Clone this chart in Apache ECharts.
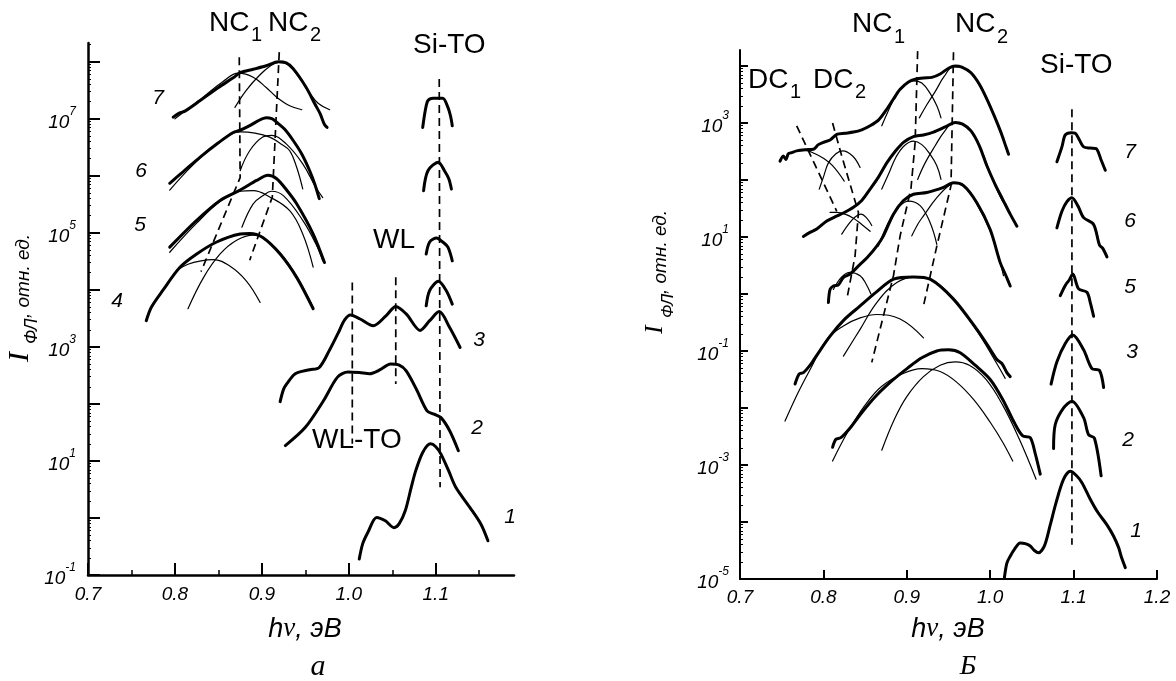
<!DOCTYPE html>
<html><head><meta charset="utf-8">
<script src="https://cdn.jsdelivr.net/npm/echarts@6/dist/echarts.min.js"></script>
<style>html,body{margin:0;padding:0;background:#fff}#c{width:1176px;height:681px}</style>
</head><body><div id="c"></div>
<script>
// ---------- axis tick values (y values are log10 of intensity) ----------
const xTicksA = [0.7, 0.8, 0.9, 1.0, 1.1];
const xMinorA = [0.75, 0.85, 0.95, 1.05, 1.15];
const yTicksA = [-1, 0, 1, 2, 3, 4, 5, 6, 7, 8];
const yLabelsA = [-1, 1, 3, 5, 7];
const xTicksB = [0.7, 0.8, 0.9, 1.0, 1.1, 1.2];
const yTicksB = [-5, -4, -3, -2, -1, 0, 1, 2, 3, 4];
const yLabelsB = [-5, -3, -1, 1, 3];

// ---------- panel a : [hv (eV), log10 I] ----------
const L7 = [[0.798,7.03],[0.805,7.10],[0.812,7.14],[0.829,7.32],[0.85,7.55],[0.867,7.72],[0.875,7.81],[0.89,7.87],[0.905,7.93],[0.919,8.0],[0.928,7.98],[0.936,7.88],[0.951,7.55],[0.961,7.26],[0.967,7.09],[0.972,6.90],[0.975,6.85]];
const L7a = [[0.80,7.0],[0.83,7.35],[0.855,7.65],[0.873,7.80],[0.89,7.73],[0.905,7.55],[0.917,7.38],[0.932,7.23],[0.946,7.16]];
const L7b = [[0.869,7.2],[0.882,7.5],[0.897,7.76],[0.91,7.93],[0.919,7.99],[0.93,7.95],[0.945,7.68],[0.955,7.45],[0.965,7.27],[0.978,7.16]];
const L6 = [[0.794,5.87],[0.81,6.08],[0.829,6.33],[0.85,6.58],[0.867,6.76],[0.875,6.80],[0.886,6.88],[0.895,6.96],[0.905,7.02],[0.912,7.0],[0.917,6.94],[0.926,6.82],[0.936,6.62],[0.946,6.38],[0.955,6.09],[0.961,5.85],[0.966,5.60]];
const L6a = [[0.794,5.75],[0.82,6.18],[0.85,6.58],[0.875,6.77],[0.892,6.75],[0.909,6.68],[0.922,6.56],[0.932,6.44],[0.94,6.15],[0.947,5.77]];
const L6b = [[0.875,6.09],[0.886,6.44],[0.901,6.68],[0.911,6.71],[0.928,6.56],[0.947,6.21],[0.962,5.80],[0.970,5.62]];
const L5 = [[0.794,4.75],[0.825,5.22],[0.852,5.57],[0.875,5.75],[0.894,5.92],[0.907,6.01],[0.917,5.95],[0.928,5.76],[0.94,5.51],[0.959,4.98],[0.972,4.48]];
const L5a = [[0.794,4.66],[0.825,5.17],[0.852,5.55],[0.875,5.73],[0.89,5.74],[0.909,5.63],[0.932,5.39],[0.947,4.98],[0.959,4.40]];
const L5b = [[0.877,5.10],[0.890,5.51],[0.901,5.65],[0.911,5.73],[0.925,5.65],[0.947,5.22],[0.962,4.81],[0.970,4.51]];
const L4 = [[0.767,3.46],[0.773,3.70],[0.786,3.99],[0.806,4.40],[0.825,4.63],[0.848,4.84],[0.875,4.98],[0.886,4.99],[0.901,4.92],[0.921,4.63],[0.94,4.22],[0.959,3.67]];
const L4a = [[0.803,4.35],[0.815,4.45],[0.83,4.51],[0.844,4.53],[0.863,4.42],[0.882,4.16],[0.898,3.78]];
const L4b = [[0.815,3.67],[0.833,4.22],[0.852,4.63],[0.871,4.87],[0.89,4.96],[0.901,4.92],[0.921,4.65],[0.94,4.24],[0.959,3.69]];
const L3 = [[0.921,2.04],[0.925,2.26],[0.929,2.36],[0.936,2.50],[0.941,2.55],[0.955,2.60],[0.966,2.64],[0.978,2.95],[0.988,3.25],[0.995,3.47],[1.002,3.56],[1.013,3.49],[1.028,3.37],[1.043,3.55],[1.054,3.71],[1.066,3.58],[1.082,3.29],[1.093,3.46],[1.104,3.62],[1.116,3.34],[1.128,2.99]];
const L2 = [[0.927,1.27],[0.95,1.59],[0.971,2.06],[0.987,2.47],[0.999,2.56],[1.012,2.55],[1.024,2.53],[1.036,2.60],[1.048,2.70],[1.058,2.68],[1.066,2.58],[1.078,2.25],[1.090,1.88],[1.098,1.82],[1.106,1.76],[1.116,1.53],[1.126,1.18]];
const L1 = [[1.012,-0.72],[1.016,-0.45],[1.022,-0.25],[1.032,0.01],[1.042,-0.05],[1.052,-0.17],[1.058,-0.10],[1.065,0.13],[1.072,0.55],[1.077,0.83],[1.085,1.15],[1.094,1.30],[1.100,1.25],[1.106,1.12],[1.115,0.82],[1.123,0.54],[1.139,0.19],[1.152,-0.11],[1.160,-0.40]];
const LSi7 = [[1.085,6.85],[1.088,7.15],[1.091,7.32],[1.097,7.36],[1.108,7.36],[1.114,7.20],[1.117,7.05],[1.119,6.88]];
const LSi6 = [[1.086,5.74],[1.091,6.09],[1.103,6.24],[1.110,6.09],[1.115,5.95],[1.118,5.77]];
const LSi5 = [[1.089,4.63],[1.093,4.84],[1.101,4.91],[1.108,4.84],[1.114,4.75],[1.119,4.51]];
const LSi4 = [[1.089,3.72],[1.093,3.99],[1.103,4.15],[1.112,3.99],[1.119,3.75]];
const LdNC1 = [[0.874,8.08],[0.875,5.97],[0.830,4.32]];
const LdNC2 = [[0.920,8.17],[0.912,5.63],[0.886,4.52]];
const LdSi = [[1.104,7.70],[1.105,0.54]];
const LdWL1 = [[1.004,4.13],[1.004,1.30]];
const LdWL2 = [[1.054,4.22],[1.054,2.35]];

// ---------- panel Б ----------
const R7 = [[0.748,2.33],[0.752,2.42],[0.755,2.36],[0.758,2.46],[0.762,2.48],[0.768,2.51],[0.778,2.53],[0.788,2.54],[0.794,2.62],[0.800,2.66],[0.808,2.70],[0.816,2.80],[0.826,2.82],[0.836,2.84],[0.846,2.88],[0.856,2.95],[0.866,3.05],[0.875,3.22],[0.884,3.42],[0.892,3.59],[0.902,3.72],[0.911,3.77],[0.920,3.79],[0.930,3.80],[0.940,3.86],[0.950,3.96],[0.958,4.00],[0.966,3.98],[0.977,3.88],[0.987,3.68],[0.996,3.42],[1.005,3.12],[1.013,2.83],[1.018,2.62],[1.022,2.45]];
const R7dc1 = [[0.765,2.50],[0.778,2.52],[0.790,2.46],[0.800,2.38],[0.811,2.25],[0.825,1.98]];
const R7dc2 = [[0.795,1.84],[0.800,2.05],[0.806,2.30],[0.815,2.46],[0.823,2.51],[0.835,2.42],[0.844,2.22]];
const R7a = [[0.870,2.95],[0.878,3.22],[0.887,3.48],[0.897,3.66],[0.908,3.74],[0.918,3.70],[0.928,3.52],[0.936,3.30],[0.941,3.09]];
const R7b = [[0.915,3.09],[0.924,3.32],[0.934,3.55],[0.945,3.82],[0.956,3.99],[0.967,3.97],[0.978,3.85],[0.990,3.60],[1.003,3.20],[1.013,2.83]];
const R6 = [[0.776,1.01],[0.784,1.08],[0.792,1.14],[0.804,1.28],[0.815,1.36],[0.824,1.42],[0.836,1.52],[0.846,1.64],[0.856,1.84],[0.866,2.05],[0.876,2.30],[0.886,2.50],[0.896,2.66],[0.908,2.76],[0.920,2.79],[0.932,2.84],[0.946,2.93],[0.958,3.01],[0.967,2.98],[0.977,2.86],[0.987,2.60],[0.996,2.25],[1.006,1.92],[1.015,1.66],[1.024,1.40],[1.032,1.19]];
const R6dc1 = [[0.808,1.43],[0.816,1.43],[0.826,1.40],[0.836,1.33],[0.846,1.22],[0.856,1.10]];
const R6dc2 = [[0.822,1.05],[0.830,1.22],[0.838,1.35],[0.845,1.40],[0.852,1.33],[0.858,1.20]];
const R6a = [[0.870,1.84],[0.878,2.10],[0.887,2.40],[0.897,2.60],[0.908,2.68],[0.918,2.62],[0.928,2.45],[0.936,2.25],[0.941,2.01]];
const R6b = [[0.913,2.01],[0.922,2.30],[0.934,2.60],[0.945,2.85],[0.956,3.00],[0.967,2.97],[0.977,2.85],[0.990,2.50],[1.003,2.00],[1.015,1.62]];
const R5 = [[0.806,-0.15],[0.808,0.08],[0.812,0.14],[0.818,0.16],[0.824,0.29],[0.832,0.35],[0.844,0.52],[0.852,0.63],[0.864,0.84],[0.872,1.02],[0.884,1.40],[0.896,1.64],[0.908,1.75],[0.924,1.78],[0.944,1.87],[0.956,1.95],[0.968,1.90],[0.984,1.60],[1.0,1.13],[1.012,0.55],[1.018,0.35],[1.024,0.14]];
const R5dc = [[0.812,0.08],[0.822,0.30],[0.832,0.38],[0.844,0.32],[0.851,0.18],[0.857,0.0]];
const R5a = [[0.866,0.84],[0.873,1.10],[0.880,1.31],[0.892,1.55],[0.902,1.63],[0.916,1.55],[0.928,1.25],[0.936,0.87]];
const R5b = [[0.906,1.02],[0.913,1.22],[0.920,1.37],[0.936,1.69],[0.952,1.92],[0.960,1.95],[0.972,1.86],[0.984,1.58],[1.0,1.10],[1.010,0.65],[1.016,0.32]];
const R3 = [[0.766,-1.58],[0.771,-1.40],[0.776,-1.38],[0.784,-1.25],[0.790,-1.12],[0.808,-0.74],[0.825,-0.45],[0.844,-0.21],[0.864,0.04],[0.884,0.26],[0.908,0.30],[0.928,0.26],[0.956,-0.09],[0.984,-0.62],[0.997,-0.90],[1.008,-1.15],[1.014,-1.22],[1.020,-1.38],[1.024,-1.45]];
const R3a = [[0.754,-2.23],[0.770,-1.72],[0.785,-1.30],[0.804,-0.80],[0.824,-0.56],[0.844,-0.42],[0.864,-0.36],[0.892,-0.44],[0.920,-0.77]];
const R3b = [[0.824,-1.09],[0.844,-0.62],[0.864,-0.15],[0.888,0.20],[0.910,0.30],[0.930,0.25],[0.956,-0.10],[0.984,-0.65],[1.005,-1.15],[1.018,-1.48]];
const R2 = [[0.811,-2.69],[0.815,-2.55],[0.821,-2.52],[0.832,-2.35],[0.845,-2.10],[0.863,-1.79],[0.884,-1.50],[0.901,-1.30],[0.918,-1.12],[0.936,-1.00],[0.950,-0.98],[0.964,-1.03],[0.982,-1.25],[1.000,-1.50],[1.015,-1.85],[1.029,-2.26],[1.039,-2.49],[1.048,-2.52],[1.054,-2.80],[1.060,-3.16]];
const R2a = [[0.811,-2.93],[0.830,-2.40],[0.850,-1.95],[0.870,-1.62],[0.895,-1.40],[0.918,-1.31],[0.940,-1.36],[0.960,-1.55],[0.980,-1.85],[1.000,-2.25],[1.015,-2.60],[1.027,-2.93]];
const R2b = [[0.870,-2.74],[0.885,-2.20],[0.900,-1.80],[0.920,-1.45],[0.940,-1.25],[0.958,-1.19],[0.975,-1.25],[0.995,-1.50],[1.015,-1.95],[1.035,-2.55],[1.055,-3.25]];
const R1 = [[1.017,-4.98],[1.020,-4.72],[1.024,-4.60],[1.029,-4.48],[1.036,-4.37],[1.042,-4.38],[1.048,-4.42],[1.053,-4.50],[1.058,-4.54],[1.065,-4.42],[1.072,-4.05],[1.079,-3.66],[1.088,-3.25],[1.096,-3.11],[1.103,-3.18],[1.110,-3.31],[1.120,-3.60],[1.129,-3.83],[1.140,-4.05],[1.148,-4.25],[1.154,-4.45],[1.157,-4.60],[1.162,-4.80]];
const RSi7 = [[1.080,2.32],[1.086,2.58],[1.090,2.79],[1.097,2.83],[1.102,2.82],[1.107,2.70],[1.112,2.58],[1.120,2.56],[1.127,2.55],[1.133,2.35],[1.138,2.17]];
const RSi6 = [[1.080,1.16],[1.086,1.45],[1.092,1.62],[1.098,1.69],[1.105,1.55],[1.112,1.34],[1.124,1.22],[1.131,0.86],[1.135,0.80],[1.140,0.65]];
const RSi5 = [[1.084,-0.03],[1.090,0.15],[1.095,0.25],[1.099,0.35],[1.106,0.09],[1.116,0.03],[1.120,-0.15],[1.124,-0.39]];
const RSi3 = [[1.073,-1.58],[1.080,-1.19],[1.090,-0.87],[1.099,-0.72],[1.112,-0.98],[1.122,-1.31],[1.131,-1.34],[1.136,-1.64]];
const RSi2 = [[1.076,-2.71],[1.078,-2.29],[1.088,-2.00],[1.098,-1.88],[1.112,-2.17],[1.118,-2.47],[1.125,-2.53],[1.133,-3.19]];
const RdNC1 = [[0.913,4.26],[0.910,2.66],[0.905,1.85],[0.892,1.02],[0.884,0.32],[0.858,-1.20]];
const RdNC2 = [[0.956,4.24],[0.953,1.90],[0.936,0.84],[0.920,-0.21]];
const RdDC1 = [[0.768,2.95],[0.816,1.45]];
const RdDC2 = [[0.811,3.0],[0.822,2.42],[0.842,1.43],[0.838,0.67],[0.828,-0.10]];
const RdSi = [[1.098,3.24],[1.098,-4.40]];

// ---------- chart ----------
const SANS = '"Liberation Sans", Arial, sans-serif';
const SERIF = '"Liberation Serif", "Times New Roman", serif';

function ln(data, side, kind) {
  const xi = side === 'L' ? 0 : 2, yi = side === 'L' ? 0 : 2;
  const s = {type: 'line', data: data, xAxisIndex: xi, yAxisIndex: yi, symbol: 'none', silent: true,
    animation: false, lineStyle: {color: '#000', cap: 'round', join: 'round'}};
  if (kind === 'thick') { s.lineStyle.width = 3; s.smooth = 0.3; }
  else if (kind === 'thin') { s.lineStyle.width = 1.2; s.smooth = 0.4; }
  else { s.lineStyle.width = 1.7; s.lineStyle.type = [8, 5]; s.lineStyle.cap = 'butt'; }
  return s;
}

function logMinor(lo, hi) {
  const out = [];
  for (let n = Math.floor(lo); n < hi; n++) for (let k = 2; k <= 9; k++) { const v = n + Math.log10(k); if (v > lo && v < hi) out.push(v); }
  return out;
}

const supRich = {
  b: {fontSize: 19, fontStyle: 'italic', fontFamily: SANS, color: '#000', lineHeight: 26, verticalAlign: 'bottom'},
  s: {fontSize: 12, fontStyle: 'italic', fontFamily: SANS, color: '#000', lineHeight: 13, verticalAlign: 'top'}
};

function xMain(grid, min, max, ticks, tickLen, lw, margin) {
  return {type: 'value', gridIndex: grid, min: min, max: max, position: 'bottom',
    axisLine: {show: true, onZero: false, lineStyle: {color: '#000', width: lw}},
    axisTick: {show: true, inside: true, length: tickLen, customValues: ticks, lineStyle: {color: '#000', width: 2}},
    axisLabel: {show: true, customValues: ticks, formatter: v => v.toFixed(1), fontStyle: 'italic', fontSize: 19, fontFamily: SANS, color: '#000', margin: margin},
    splitLine: {show: false}};
}
function xMinor(grid, min, max, ticks) {
  return {type: 'value', gridIndex: grid, min: min, max: max, position: 'bottom',
    axisLine: {show: false, onZero: false}, axisLabel: {show: false}, splitLine: {show: false},
    axisTick: {show: ticks.length > 0, inside: true, length: 5, customValues: ticks, lineStyle: {color: '#000', width: 1.5}}};
}
function yMain(grid, min, max, ticks, labels, tickLen, lw, margin) {
  return {type: 'value', gridIndex: grid, min: min, max: max, position: 'left',
    axisLine: {show: true, onZero: false, lineStyle: {color: '#000', width: lw}},
    axisTick: {show: true, inside: true, length: tickLen, customValues: ticks, lineStyle: {color: '#000', width: 2}},
    axisLabel: {show: true, customValues: labels, formatter: v => '{b|10}{s|' + v + '}', rich: supRich, margin: margin},
    splitLine: {show: false}};
}
function yMinor(grid, min, max) {
  return {type: 'value', gridIndex: grid, min: min, max: max, position: 'left',
    axisLine: {show: false, onZero: false}, axisLabel: {show: false}, splitLine: {show: false},
    axisTick: {show: true, inside: true, length: 3, customValues: logMinor(min, max), lineStyle: {color: '#000', width: 1}}};
}

function txt(x, y, text, size, opt) {
  opt = opt || {};
  return {type: 'text', x: x, y: y, rotation: opt.rot || 0, silent: true,
    style: {text: text, fill: '#000', fontSize: size, fontFamily: opt.serif ? SERIF : SANS,
      fontStyle: opt.italic ? 'italic' : 'normal', align: opt.align || 'left', verticalAlign: 'middle'}};
}

const series = [
  ln(L7, 'L', 'thick'), ln(L7a, 'L', 'thin'), ln(L7b, 'L', 'thin'),
  ln(L6, 'L', 'thick'), ln(L6a, 'L', 'thin'), ln(L6b, 'L', 'thin'),
  ln(L5, 'L', 'thick'), ln(L5a, 'L', 'thin'), ln(L5b, 'L', 'thin'),
  ln(L4, 'L', 'thick'), ln(L4a, 'L', 'thin'), ln(L4b, 'L', 'thin'),
  ln(L3, 'L', 'thick'), ln(L2, 'L', 'thick'), ln(L1, 'L', 'thick'),
  ln(LSi7, 'L', 'thick'), ln(LSi6, 'L', 'thick'), ln(LSi5, 'L', 'thick'), ln(LSi4, 'L', 'thick'),
  ln(LdNC1, 'L', 'dash'), ln(LdNC2, 'L', 'dash'), ln(LdSi, 'L', 'dash'), ln(LdWL1, 'L', 'dash'), ln(LdWL2, 'L', 'dash'),
  ln(R7, 'R', 'thick'), ln(R7dc1, 'R', 'thin'), ln(R7dc2, 'R', 'thin'), ln(R7a, 'R', 'thin'), ln(R7b, 'R', 'thin'),
  ln(R6, 'R', 'thick'), ln(R6dc1, 'R', 'thin'), ln(R6dc2, 'R', 'thin'), ln(R6a, 'R', 'thin'), ln(R6b, 'R', 'thin'),
  ln(R5, 'R', 'thick'), ln(R5dc, 'R', 'thin'), ln(R5a, 'R', 'thin'), ln(R5b, 'R', 'thin'),
  ln(R3, 'R', 'thick'), ln(R3a, 'R', 'thin'), ln(R3b, 'R', 'thin'),
  ln(R2, 'R', 'thick'), ln(R2a, 'R', 'thin'), ln(R2b, 'R', 'thin'),
  ln(R1, 'R', 'thick'),
  ln(RSi7, 'R', 'thick'), ln(RSi6, 'R', 'thick'), ln(RSi5, 'R', 'thick'), ln(RSi3, 'R', 'thick'), ln(RSi2, 'R', 'thick'),
  ln(RdNC1, 'R', 'dash'), ln(RdNC2, 'R', 'dash'), ln(RdDC1, 'R', 'dash'), ln(RdDC2, 'R', 'dash'), ln(RdSi, 'R', 'dash')
];

const graphics = [
  // panel a labels
  txt(209, 23, 'NC', 28), txt(251, 35, '1', 20), txt(268, 23, 'NC', 28), txt(310, 35, '2', 20),
  txt(413, 45, 'Si-TO', 28), txt(373, 240, 'WL', 28), txt(312, 440, 'WL-TO', 28),
  txt(158, 98, '7', 21, {italic: true, align: 'center'}), txt(141, 171, '6', 21, {italic: true, align: 'center'}),
  txt(140, 225, '5', 21, {italic: true, align: 'center'}), txt(117, 301, '4', 21, {italic: true, align: 'center'}),
  txt(479, 340, '3', 21, {italic: true, align: 'center'}), txt(477, 428, '2', 21, {italic: true, align: 'center'}),
  txt(510, 517, '1', 21, {italic: true, align: 'center'}),
  // panel Б labels
  txt(852, 24, 'NC', 28), txt(894, 37, '1', 20), txt(955, 24, 'NC', 28), txt(997, 37, '2', 20),
  txt(748, 80, 'DC', 28), txt(790, 92, '1', 20), txt(813, 80, 'DC', 28), txt(855, 92, '2', 20),
  txt(1040, 65, 'Si-TO', 28),
  txt(1130, 152, '7', 21, {italic: true, align: 'center'}), txt(1130, 221, '6', 21, {italic: true, align: 'center'}),
  txt(1130, 287, '5', 21, {italic: true, align: 'center'}), txt(1132, 352, '3', 21, {italic: true, align: 'center'}),
  txt(1128, 440, '2', 21, {italic: true, align: 'center'}), txt(1136, 531, '1', 21, {italic: true, align: 'center'}),
  // axis titles
  {type: 'text', x: 305, y: 629, silent: true, style: {text: '{h|h}{n|ν}{r|, эВ}', align: 'center', verticalAlign: 'middle',
    rich: {h: {fontSize: 27, fontStyle: 'italic', fontFamily: SANS}, n: {fontSize: 27, fontStyle: 'italic', fontFamily: SERIF}, r: {fontSize: 27, fontStyle: 'italic', fontFamily: SANS}}}},
  {type: 'text', x: 948, y: 629, silent: true, style: {text: '{h|h}{n|ν}{r|, эВ}', align: 'center', verticalAlign: 'middle',
    rich: {h: {fontSize: 27, fontStyle: 'italic', fontFamily: SANS}, n: {fontSize: 27, fontStyle: 'italic', fontFamily: SERIF}, r: {fontSize: 27, fontStyle: 'italic', fontFamily: SANS}}}},
  txt(318, 667, 'a', 30, {italic: true, serif: true, align: 'center'}),
  txt(968, 667, 'Б', 28, {italic: true, serif: true, align: 'center'}),
  // y titles (rotated)
  txt(20, 362, 'I', 30, {italic: true, serif: true, rot: Math.PI / 2}),
  txt(32, 344, 'ФЛ', 18, {italic: true, rot: Math.PI / 2}),
  txt(24, 318, ', отн. ед.', 19, {italic: true, rot: Math.PI / 2}),
  txt(655, 334, 'I', 26, {italic: true, serif: true, rot: Math.PI / 2}),
  txt(668, 318, 'ФЛ', 17, {italic: true, rot: Math.PI / 2}),
  txt(661, 294, ', отн. ед.', 19, {italic: true, rot: Math.PI / 2})
];

const option = {
  backgroundColor: '#fff',
  animation: false,
  grid: [
    {left: 88, top: 43, width: 426, height: 532},
    {left: 740, top: 50, width: 417, height: 529}
  ],
  xAxis: [
    xMain(0, 0.7, 1.19, xTicksA, 12, 2.5, 10), xMinor(0, 0.7, 1.19, xMinorA),
    xMain(1, 0.7, 1.2, xTicksB, 9, 2, 9), xMinor(1, 0.7, 1.2, [])
  ],
  yAxis: [
    yMain(0, -1, 8.33, yTicksA, yLabelsA, 12, 2.5, 12), yMinor(0, -1, 8.33),
    yMain(1, -5, 4.28, yTicksB, yLabelsB, 8, 2, 11), yMinor(1, -5, 4.28)
  ],
  series: series,
  graphic: graphics
};

const chart = echarts.init(document.getElementById('c'), null, {renderer: 'canvas'});
chart.setOption(option);
</script></body></html>
